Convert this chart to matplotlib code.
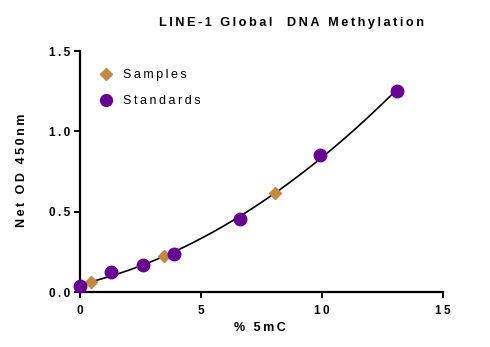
import numpy as np
import matplotlib
matplotlib.use("Agg")
import matplotlib.pyplot as plt

# standard curve (% 5mC vs net OD)
std_pct = [0.0, 1.3, 2.6, 3.9, 6.6, 9.9, 13.1]
std_od = [0.037, 0.124, 0.168, 0.236, 0.454, 0.853, 1.25]

# unknown samples read against the curve
smp_pct = [0.45, 3.47, 8.06]
smp_od = [0.062, 0.224, 0.616]

x_ticks = [0, 5, 10, 15]
y_ticks = [0.0, 0.5, 1.0, 1.5]

PURPLE = "#650590"
TAN = "#c08a45"
FONT = "Liberation Sans"


def spaced(s, sep="\u2009"):
    """wide tracking like the original graph software"""
    return sep.join(s)


plt.rcParams["font.family"] = [FONT, "DejaVu Sans"]
plt.rcParams["font.weight"] = "bold"

fig = plt.figure(figsize=(4.9, 3.47), dpi=100)
ax = fig.add_axes([0.163, 0.1585, 0.741, 0.6945])

# second order fit through the standards
coef = np.polyfit(std_pct, std_od, 2)
xs = np.linspace(0, max(std_pct), 200)
ax.plot(xs, np.polyval(coef, xs), color="black", lw=1.2, zorder=2)

ax.plot(smp_pct, smp_od, "D", color=TAN, ms=6.5, mec=TAN, zorder=3,
        clip_on=False)
ax.plot(std_pct, std_od, "o", color=PURPLE, ms=9, mec=PURPLE, zorder=4,
        clip_on=False)

ax.set_xlim(0, 15)
ax.set_ylim(0, 1.5)
ax.set_xticks(x_ticks)
ax.set_yticks(y_ticks)
ax.set_xticklabels([spaced(str(v)) for v in x_ticks])
ax.set_yticklabels([spaced(f"{v:.1f}") for v in y_ticks])

for side in ("top", "right"):
    ax.spines[side].set_visible(False)
for side in ("left", "bottom"):
    ax.spines[side].set_linewidth(1.6)
ax.tick_params(width=1.4, length=4, labelsize=8.5)
ax.tick_params(axis="x", pad=5)
ax.tick_params(axis="y", pad=3)

# legend drawn by hand, no frame
leg_x, leg_tx = 1.1, 1.78
ax.plot([leg_x], [1.355], "D", color=TAN, ms=6.5)
ax.plot([leg_x], [1.195], "o", color=PURPLE, ms=8.5)
ax.text(leg_tx, 1.35, spaced("Samples"), fontsize=9, fontweight="normal",
        va="center")
ax.text(leg_tx, 1.19, spaced("Standards"), fontsize=9, fontweight="normal",
        va="center")

fig.text(291 / 490, 1 - 23 / 347, spaced("LINE-1 Global  DNA Methylation"),
         ha="center", va="center", fontsize=9.2, fontweight="bold")
fig.text(260 / 490, 1 - 328 / 347, spaced("% 5mC"), ha="center",
         va="center", fontsize=9, fontweight="bold")
fig.text(22 / 490, 1 - 170 / 347, spaced("Net OD 450nm"), ha="center",
         va="center", rotation=90, fontsize=9, fontweight="bold")

fig.savefig("out.png", dpi=100)
